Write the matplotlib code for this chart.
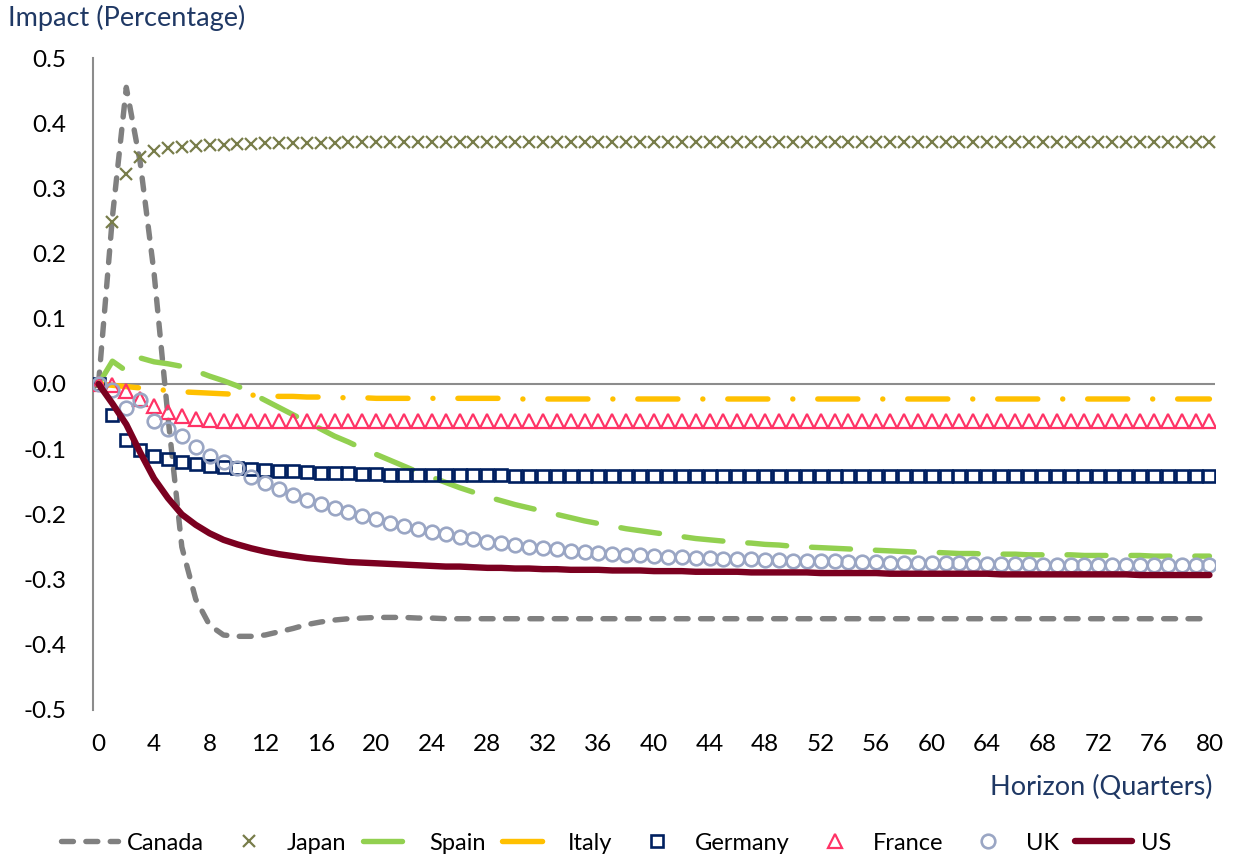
import matplotlib
matplotlib.use("Agg")
import matplotlib.pyplot as plt
from matplotlib.ticker import FormatStrFormatter, MultipleLocator

plt.rcParams["font.family"] = ["Lato", "DejaVu Sans"]

# horizon in quarters
quarters = list(range(0, 81))

canada = [
    0, 0.256, 0.455, 0.34, 0.17, -0.05, -0.25, -0.33, -0.37, -0.385,
    -0.387, -0.387, -0.385, -0.38, -0.375, -0.369, -0.365, -0.362, -0.36, -0.359,
    -0.358, -0.358, -0.358, -0.359, -0.359, -0.36, -0.36, -0.36, -0.36, -0.36,
    -0.36, -0.36, -0.36, -0.36, -0.36, -0.36, -0.36, -0.36, -0.36, -0.36,
    -0.36, -0.36, -0.36, -0.36, -0.36, -0.36, -0.36, -0.36, -0.36, -0.36,
    -0.36, -0.36, -0.36, -0.36, -0.36, -0.36, -0.36, -0.36, -0.36, -0.36,
    -0.36, -0.36, -0.36, -0.36, -0.36, -0.36, -0.36, -0.36, -0.36, -0.36,
    -0.36, -0.36, -0.36, -0.36, -0.36, -0.36, -0.36, -0.36, -0.36, -0.36,
    -0.36,
]

japan = [
    0, 0.248, 0.322, 0.348, 0.358, 0.362, 0.364, 0.365, 0.366, 0.367,
    0.368, 0.368, 0.369, 0.369, 0.37, 0.37, 0.37, 0.37, 0.371, 0.371,
    0.371, 0.371, 0.371, 0.371, 0.371, 0.371, 0.371, 0.371, 0.371, 0.371,
    0.371, 0.371, 0.371, 0.371, 0.371, 0.371, 0.371, 0.371, 0.371, 0.371,
    0.371, 0.371, 0.371, 0.371, 0.371, 0.371, 0.371, 0.371, 0.371, 0.371,
    0.371, 0.371, 0.371, 0.371, 0.371, 0.371, 0.371, 0.371, 0.371, 0.371,
    0.371, 0.371, 0.371, 0.371, 0.371, 0.371, 0.371, 0.371, 0.371, 0.371,
    0.371, 0.371, 0.371, 0.371, 0.371, 0.371, 0.371, 0.371, 0.371, 0.371,
    0.371,
]

spain = [
    0, 0.035, 0.02, 0.04, 0.034, 0.031, 0.027, 0.02, 0.012, 0.005,
    -0.003, -0.014, -0.025, -0.036, -0.047, -0.058, -0.069, -0.08, -0.089, -0.099,
    -0.108, -0.117, -0.126, -0.135, -0.143, -0.151, -0.159, -0.166, -0.173, -0.179,
    -0.185, -0.19, -0.195, -0.2, -0.205, -0.21, -0.214, -0.218, -0.222, -0.225,
    -0.228, -0.231, -0.234, -0.237, -0.239, -0.241, -0.243, -0.244, -0.246, -0.247,
    -0.249, -0.25, -0.251, -0.252, -0.253, -0.254, -0.255, -0.256, -0.257, -0.258,
    -0.258, -0.259, -0.26, -0.26, -0.261, -0.261, -0.261, -0.262, -0.262, -0.262,
    -0.262, -0.263, -0.263, -0.263, -0.263, -0.263, -0.264, -0.264, -0.264, -0.264,
    -0.264,
]

italy = [
    0, -0.002, -0.004, -0.006, -0.008, -0.01, -0.012, -0.013, -0.014, -0.015,
    -0.016, -0.017, -0.018, -0.019, -0.019, -0.02, -0.02, -0.021, -0.021, -0.021,
    -0.022, -0.022, -0.022, -0.022, -0.022, -0.022, -0.022, -0.022, -0.022, -0.022,
    -0.023, -0.023, -0.023, -0.023, -0.023, -0.023, -0.023, -0.023, -0.023, -0.023,
    -0.023, -0.023, -0.023, -0.023, -0.023, -0.023, -0.023, -0.023, -0.023, -0.023,
    -0.023, -0.023, -0.023, -0.023, -0.023, -0.023, -0.023, -0.023, -0.023, -0.023,
    -0.023, -0.023, -0.023, -0.023, -0.023, -0.023, -0.023, -0.023, -0.023, -0.023,
    -0.023, -0.023, -0.023, -0.023, -0.023, -0.023, -0.023, -0.023, -0.023, -0.023,
    -0.023,
]

germany = [
    0, -0.048, -0.086, -0.101, -0.11, -0.115, -0.12, -0.123, -0.126, -0.128,
    -0.129, -0.131, -0.132, -0.133, -0.134, -0.135, -0.136, -0.137, -0.137, -0.138,
    -0.138, -0.139, -0.139, -0.139, -0.14, -0.14, -0.14, -0.14, -0.14, -0.14,
    -0.141, -0.141, -0.141, -0.141, -0.141, -0.141, -0.141, -0.141, -0.141, -0.141,
    -0.141, -0.141, -0.141, -0.141, -0.141, -0.141, -0.141, -0.141, -0.141, -0.141,
    -0.141, -0.141, -0.141, -0.141, -0.141, -0.141, -0.141, -0.141, -0.141, -0.141,
    -0.141, -0.141, -0.141, -0.141, -0.141, -0.141, -0.141, -0.141, -0.141, -0.141,
    -0.141, -0.141, -0.141, -0.141, -0.141, -0.141, -0.141, -0.141, -0.141, -0.141,
    -0.141,
]

france = [
    0, -0.002, -0.01, -0.023, -0.033, -0.043, -0.049, -0.053, -0.055, -0.056,
    -0.056, -0.056, -0.056, -0.056, -0.056, -0.056, -0.056, -0.056, -0.056, -0.056,
    -0.056, -0.056, -0.056, -0.056, -0.056, -0.056, -0.056, -0.056, -0.056, -0.056,
    -0.056, -0.056, -0.056, -0.056, -0.056, -0.056, -0.056, -0.056, -0.056, -0.056,
    -0.056, -0.056, -0.056, -0.056, -0.056, -0.056, -0.056, -0.056, -0.056, -0.056,
    -0.056, -0.056, -0.056, -0.056, -0.056, -0.056, -0.056, -0.056, -0.056, -0.056,
    -0.056, -0.056, -0.056, -0.056, -0.056, -0.056, -0.056, -0.056, -0.056, -0.056,
    -0.056, -0.056, -0.056, -0.056, -0.056, -0.056, -0.056, -0.056, -0.056, -0.056,
    -0.056,
]

uk = [
    0, -0.009, -0.037, -0.025, -0.057, -0.069, -0.08, -0.097, -0.11, -0.12,
    -0.129, -0.142, -0.152, -0.161, -0.17, -0.178, -0.184, -0.19, -0.196, -0.202,
    -0.207, -0.213, -0.218, -0.222, -0.227, -0.23, -0.234, -0.238, -0.242, -0.244,
    -0.247, -0.25, -0.252, -0.253, -0.256, -0.258, -0.259, -0.261, -0.262, -0.263,
    -0.264, -0.265, -0.266, -0.267, -0.267, -0.268, -0.269, -0.269, -0.27, -0.27,
    -0.271, -0.271, -0.272, -0.272, -0.273, -0.273, -0.273, -0.274, -0.274, -0.274,
    -0.275, -0.275, -0.275, -0.276, -0.276, -0.276, -0.276, -0.276, -0.277, -0.277,
    -0.277, -0.277, -0.277, -0.277, -0.278, -0.278, -0.278, -0.278, -0.278, -0.278,
    -0.278,
]

us = [
    0, -0.03, -0.062, -0.105, -0.145, -0.175, -0.2, -0.216, -0.229, -0.239,
    -0.246, -0.252, -0.257, -0.261, -0.264, -0.267, -0.269, -0.271, -0.273, -0.274,
    -0.275, -0.276, -0.277, -0.278, -0.279, -0.28, -0.28, -0.281, -0.282, -0.282,
    -0.283, -0.283, -0.284, -0.284, -0.285, -0.285, -0.285, -0.286, -0.286, -0.286,
    -0.287, -0.287, -0.287, -0.288, -0.288, -0.288, -0.288, -0.289, -0.289, -0.289,
    -0.289, -0.289, -0.29, -0.29, -0.29, -0.29, -0.29, -0.291, -0.291, -0.291,
    -0.291, -0.291, -0.291, -0.291, -0.291, -0.292, -0.292, -0.292, -0.292, -0.292,
    -0.292, -0.292, -0.292, -0.292, -0.292, -0.293, -0.293, -0.293, -0.293, -0.293,
    -0.293,
]

TITLE_COLOR = "#1F3864"
AXIS_GRAY = "#8C8C8C"

fig = plt.figure(figsize=(12.33, 8.58), dpi=100)
ax = fig.add_axes([0.0754, 0.1725, 0.91, 0.7599])

LW = 3.9
ax.plot(quarters, canada, color="#808080", lw=LW, dashes=(2.2, 2.3),
        dash_capstyle="round", label="Canada", zorder=3)
ax.plot(quarters, japan, ls="none", marker="x", ms=9, mew=1.6,
        color="#787D4A", label="Japan", zorder=4)
ax.plot(quarters, spain, color="#92D050", lw=LW, dashes=(7.2, 4.6),
        dash_capstyle="round", label="Spain", zorder=5)
ax.plot(quarters, italy, color="#FFC000", lw=LW, dashes=(7.4, 4.6, 0.01, 4.6),
        dash_capstyle="round", label="Italy", zorder=6)
ax.plot(quarters, germany, ls="none", marker="s", ms=9.2, mew=1.9,
        mfc="none", mec="#002060", label="Germany", zorder=7)
ax.plot(quarters, france, ls="none", marker="^", ms=9.8, mew=1.6,
        mfc="none", mec="#FF3366", label="France", zorder=8)
ax.plot(quarters, uk, ls="none", marker="o", ms=9.8, mew=1.9,
        mfc="none", mec="#9AA6C4", label="UK", zorder=9)
ax.plot(quarters, us, color="#7B0020", lw=4.6, solid_capstyle="round",
        label="US", zorder=10)

ax.axhline(0, color=AXIS_GRAY, lw=1.5, zorder=2)

ax.set_xlim(-0.4, 80.4)
ax.set_ylim(-0.5, 0.5)
ax.xaxis.set_major_locator(MultipleLocator(4))
ax.yaxis.set_major_locator(MultipleLocator(0.1))
ax.yaxis.set_major_formatter(FormatStrFormatter("%.1f"))
ax.tick_params(axis="both", length=0, labelsize=17.5, colors="black")
ax.tick_params(axis="y", pad=19)
ax.tick_params(axis="x", pad=17)

for side in ("top", "right", "bottom"):
    ax.spines[side].set_visible(False)
ax.spines["left"].set_color(AXIS_GRAY)
ax.spines["left"].set_linewidth(1.5)

fig.text(0.0065, 1 - 18 / 858, "Impact (Percentage)", ha="left", va="center",
         fontsize=19.5, color=TITLE_COLOR)
fig.text(1213 / 1233, 1 - 787 / 858, "Horizon (Quarters)", ha="right",
         va="center", fontsize=19.5, color=TITLE_COLOR)

fig.legend(loc="center", bbox_to_anchor=(0.5, 1 - 843 / 858), ncol=8,
           frameon=False, fontsize=17, handlelength=2.4, handletextpad=0.4,
           columnspacing=0.7)

fig.savefig("out.png", dpi=100)
